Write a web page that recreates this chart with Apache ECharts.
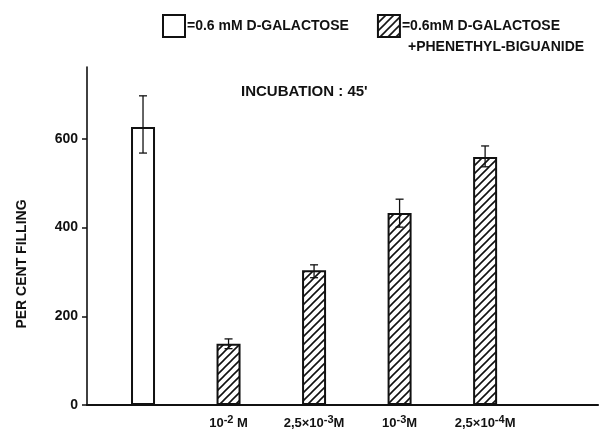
<!DOCTYPE html>
<html>
<head>
<meta charset="utf-8">
<script src="https://cdn.jsdelivr.net/npm/echarts@6/dist/echarts.min.js"></script>
<style>html,body{margin:0;padding:0;background:#fff}#c{width:600px;height:430px}</style>
</head>
<body>
<div id="c"></div>
<script>
// ---- data ----
const categories = ['CONTROL', '10^-2 M', '2,5×10^-3M', '10^-3M', '2,5×10^-4M'];
const positions = [1, 2, 3, 4, 5];
const seriesNames = ['=0.6 mM D-GALACTOSE', '=0.6mM D-GALACTOSE'];
const legendLine2 = '+PHENETHYL-BIGUANIDE';
const galactose = [627];              // white bar
const biguanide = [138, 304, 433, 559]; // hatched bars
const errLow  = [568, 127, 287, 401, 537];
const errHigh = [697, 149, 316, 464, 584];
const yTicks = [0, 200, 400, 600];
const yName = 'PER CENT FILLING';
const note = "INCUBATION : 45'";

// hatch pattern
function hatch() {
  const s = 8, c = document.createElement('canvas');
  c.width = s; c.height = s;
  const g = c.getContext('2d');
  g.fillStyle = '#fff'; g.fillRect(0, 0, s, s);
  g.strokeStyle = '#111'; g.lineWidth = 1.6;
  g.beginPath();
  g.moveTo(-1, s + 1); g.lineTo(s + 1, -1);
  g.moveTo(-2, 2); g.lineTo(2, -2);
  g.moveTo(s - 2, s + 2); g.lineTo(s + 2, s - 2);
  g.stroke();
  return c;
}
const pattern = { image: hatch(), repeat: 'repeat' };

function fmtLabel(t) {
  const m = t.match(/^(.*)\^(-\d)(.*)$/);
  if (!m) return '';
  return '{b|' + m[1] + '}{s|' + m[2] + '}{b|' + m[3] + '}';
}

const font = 'Liberation Sans';
const chart = echarts.init(document.getElementById('c'), null, { renderer: 'canvas' });
chart.setOption({
  animation: false,
  backgroundColor: '#fff',
  textStyle: { fontFamily: font, color: '#111' },
  grid: { left: 87, right: 2, top: 67, bottom: 25, containLabel: false },
  title: {
    text: note, left: 236, top: 79,
    textStyle: { fontFamily: font, fontSize: 15, fontWeight: 'bold', color: '#111' }
  },
  legend: {
    left: 157, top: 9, itemWidth: 22, itemHeight: 22, itemGap: 28,
    icon: 'rect', selectedMode: false,
    textStyle: { fontFamily: font, fontSize: 14, fontWeight: 'bold', color: '#111', padding: [0, 0, 0, -3] },
    data: [
      { name: seriesNames[0] },
      { name: seriesNames[1] }
    ]
  },
  graphic: [{
    type: 'text', left: 408, top: 40,
    style: { text: legendLine2, font: 'bold 14px ' + font, fill: '#111' }
  }],
  xAxis: {
    type: 'value', min: 0.345, max: 6.32,
    splitLine: { show: false },
    axisLine: { show: true, onZero: false, lineStyle: { color: '#111', width: 2.2 } },
    axisTick: { show: false },
    axisLabel: {
      customValues: positions.slice(1),
      margin: 9,
      formatter: v => fmtLabel(categories[positions.indexOf(v)] || ''),
      rich: {
        b: { fontFamily: font, fontSize: 13, fontWeight: 'bold', color: '#111' },
        s: { fontFamily: font, fontSize: 11, fontWeight: 'bold', color: '#111', padding: [0, 0, 8, 0] }
      }
    }
  },
  yAxis: {
    type: 'value', min: 0, max: 762,
    name: yName, nameLocation: 'middle', nameGap: 58, nameRotate: 90,
    nameTextStyle: { fontFamily: font, fontSize: 14, fontWeight: 'bold', color: '#111', padding: [0, 56, 0, 0] },
    splitLine: { show: false },
    axisLine: { show: true, lineStyle: { color: '#111', width: 1.6 } },
    axisTick: { show: true, customValues: yTicks, length: 5, lineStyle: { color: '#111', width: 1.5 } },
    axisLabel: { customValues: yTicks, margin: 9, fontFamily: font, fontSize: 14, fontWeight: 'bold', color: '#111' }
  },
  series: [
    {
      name: seriesNames[0], type: 'bar', barWidth: 24, barGap: '-100%',
      itemStyle: { color: '#fff', borderColor: '#111', borderWidth: 2 },
      data: galactose.map((v, i) => [positions[i], v])
    },
    {
      name: seriesNames[1], type: 'bar', barWidth: 24, barGap: '-100%',
      itemStyle: { color: pattern, borderColor: '#111', borderWidth: 2 },
      data: biguanide.map((v, i) => [positions[i + 1], v])
    },
    {
      type: 'custom', name: 'err', z: 10,
      data: positions.map((p, i) => [p, errLow[i], errHigh[i]]),
      renderItem: (params, api) => {
        const x = api.value(0);
        const lo = api.coord([x, api.value(1)]);
        const hi = api.coord([x, api.value(2)]);
        const w = 4;
        const st = { stroke: '#111', lineWidth: 1.3 };
        return {
          type: 'group', children: [
            { type: 'line', shape: { x1: lo[0], y1: lo[1], x2: hi[0], y2: hi[1] }, style: st },
            { type: 'line', shape: { x1: hi[0] - w, y1: hi[1], x2: hi[0] + w, y2: hi[1] }, style: st },
            { type: 'line', shape: { x1: lo[0] - w, y1: lo[1], x2: lo[0] + w, y2: lo[1] }, style: st }
          ]
        };
      }
    }
  ]
});
</script>
</body>
</html>
